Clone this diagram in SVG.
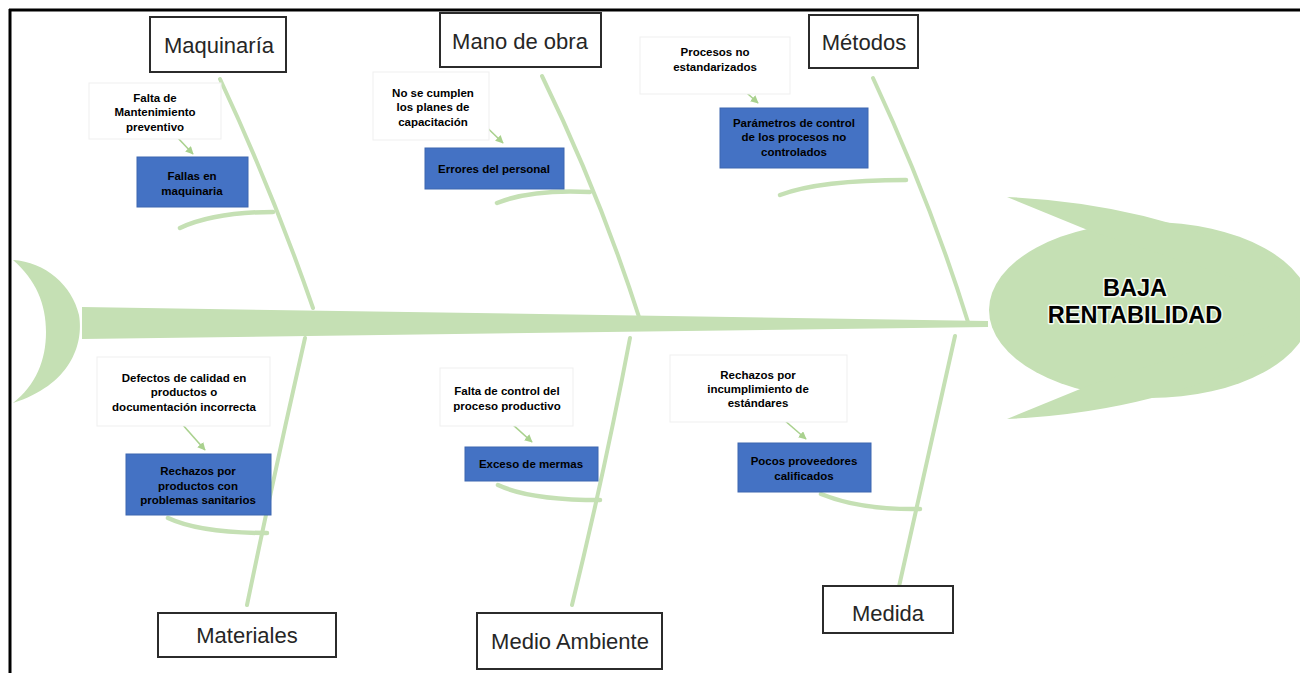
<svg xmlns="http://www.w3.org/2000/svg" width="1300" height="673" viewBox="0 0 1300 673">
<defs>
<style>
.bone{fill:none;stroke:#c5e0b4;stroke-width:4;stroke-linecap:round}
.sub{fill:none;stroke:#c5e0b4;stroke-width:4.5;stroke-linecap:round}
.arr{fill:none;stroke:#a9d18e;stroke-width:1.6}
.cat{fill:#fff;stroke:#2b2b2b;stroke-width:2}
.catt{font-family:"Liberation Sans",Arial,sans-serif;font-size:22px;fill:#262626;text-anchor:middle}
.cause{fill:#fff;stroke:#efefef;stroke-width:1}
.blue{fill:#4472c4;stroke:#3d66b0;stroke-width:1}
.t{font-family:"Liberation Sans",Arial,sans-serif;font-size:11.5px;font-weight:bold;fill:#000;text-anchor:middle}
.head{font-family:"Liberation Sans",Arial,sans-serif;font-size:23.5px;font-weight:bold;fill:#000;text-anchor:middle;stroke:#f4fbef;stroke-width:3;paint-order:stroke;stroke-linejoin:round}
</style>
<marker id="ah" viewBox="0 0 10 10" refX="9" refY="5" markerWidth="5" markerHeight="5" orient="auto">
<path d="M0,0 L10,5 L0,10 Z" fill="#a9d18e"/>
</marker>
</defs>
<rect width="1300" height="673" fill="#fff"/>
<!-- frame -->
<line x1="9" y1="10" x2="1300" y2="10" stroke="#000" stroke-width="3"/>
<line x1="10" y1="9" x2="10" y2="673" stroke="#000" stroke-width="3"/>

<g id="fish">
<path id="tail" d="M13,260 C45,262 72,285 79,315 C84,345 70,385 13,403 C36,385 46,360 46,332 C46,304 36,280 13,260 Z" fill="#c5e0b4"/>
<path id="spine" d="M82,307 L988,321 L988,327 L82,339 Z" fill="#c5e0b4"/>
<g id="head-shape" fill="#c5e0b4">
<ellipse cx="1150" cy="310" rx="161" ry="88"/>
<path d="M1007,197 Q1180,205 1302,282 L1302,300 L1090,231 Z"/>
<path d="M1007,419 Q1180,411 1302,334 L1302,316 L1090,385 Z"/>
</g>
</g>

<g id="connectors">
<path class="bone" d="M220,79 Q272,190 313,308"/>
<path class="bone" d="M542,76 Q600,195 640,320"/>
<path class="bone" d="M873,78 Q930,200 968,322"/>
<path class="bone" d="M305,338 Q275,470 247,605"/>
<path class="bone" d="M630,338 Q605,470 572,605"/>
<path class="bone" d="M955,336 Q925,470 896,600"/>
<path class="sub" d="M180,228 Q215,212 273,212"/>
<path class="sub" d="M497,203 Q532,189 590,192"/>
<path class="sub" d="M780,195 Q820,180 906,180"/>
<path class="sub" d="M168,518 Q200,533 267,533"/>
<path class="sub" d="M498,485 Q530,500 600,500"/>
<path class="sub" d="M821,494 Q860,510 920,509"/>
<path class="arr" marker-end="url(#ah)" d="M161,120 L193,154"/>
<path class="arr" marker-end="url(#ah)" d="M472,113 L503,143"/>
<path class="arr" marker-end="url(#ah)" d="M728,76 L758,103"/>
<path class="arr" marker-end="url(#ah)" d="M182,424 L205,450"/>
<path class="arr" marker-end="url(#ah)" d="M502,415 L532,442"/>
<path class="arr" marker-end="url(#ah)" d="M776,413 L806,439"/>
</g>

<g id="n-head"><text class="head" x="1135" y="296">BAJA</text><text class="head" x="1135" y="323">RENTABILIDAD</text></g>

<g id="n-maquinaria"><rect class="cat" x="150" y="17" width="136" height="55"/><text class="catt" x="219" y="53">Maquinaría</text></g>
<g id="n-manodeobra"><rect class="cat" x="440" y="13" width="161" height="54"/><text class="catt" x="520" y="49">Mano de obra</text></g>
<g id="n-metodos"><rect class="cat" x="809" y="15" width="109" height="53"/><text class="catt" x="864" y="50">Métodos</text></g>
<g id="n-materiales"><rect class="cat" x="158" y="613" width="178" height="44"/><text class="catt" x="247" y="643">Materiales</text></g>
<g id="n-medioambiente"><rect class="cat" x="477" y="613" width="185" height="56"/><text class="catt" x="570" y="649">Medio Ambiente</text></g>
<g id="n-medida"><rect class="cat" x="823" y="586" width="130" height="47"/><text class="catt" x="888" y="621">Medida</text></g>

<g id="c-mantenimiento"><rect class="cause" x="89" y="83" width="132" height="56"/><text class="t" x="155" y="102">Falta de</text><text class="t" x="155" y="116">Mantenimiento</text><text class="t" x="155" y="131">preventivo</text></g>
<g id="c-capacitacion"><rect class="cause" x="373" y="72" width="116" height="68"/><text class="t" x="433" y="97">No se cumplen</text><text class="t" x="433" y="111">los planes de</text><text class="t" x="433" y="126">capacitación</text></g>
<g id="c-procesos"><rect class="cause" x="640" y="37" width="150" height="57"/><text class="t" x="715" y="56">Procesos no</text><text class="t" x="715" y="71">estandarizados</text></g>
<g id="c-defectos"><rect class="cause" x="97" y="357" width="173" height="69"/><text class="t" x="184" y="382">Defectos de calidad en</text><text class="t" x="184" y="396">productos o</text><text class="t" x="184" y="411">documentación incorrecta</text></g>
<g id="c-control"><rect class="cause" x="440" y="368" width="133" height="58"/><text class="t" x="507" y="395">Falta de control del</text><text class="t" x="507" y="410">proceso productivo</text></g>
<g id="c-incumplimiento"><rect class="cause" x="670" y="355" width="177" height="67"/><text class="t" x="758" y="379">Rechazos por</text><text class="t" x="758" y="393">incumplimiento de</text><text class="t" x="758" y="407">estándares</text></g>

<g id="b-fallas"><rect class="blue" x="137" y="157" width="111" height="50"/><text class="t" x="192" y="180">Fallas en</text><text class="t" x="192" y="195">maquinaria</text></g>
<g id="b-errores"><rect class="blue" x="425" y="148" width="139" height="41"/><text class="t" x="494" y="173">Errores del personal</text></g>
<g id="b-parametros"><rect class="blue" x="720" y="108" width="148" height="60"/><text class="t" x="794" y="127">Parámetros de control</text><text class="t" x="794" y="141">de los procesos no</text><text class="t" x="794" y="156">controlados</text></g>
<g id="b-rechazos"><rect class="blue" x="126" y="454" width="145" height="61"/><text class="t" x="198" y="475">Rechazos por</text><text class="t" x="198" y="490">productos con</text><text class="t" x="198" y="504">problemas sanitarios</text></g>
<g id="b-mermas"><rect class="blue" x="465" y="447" width="133" height="34"/><text class="t" x="531" y="468">Exceso de mermas</text></g>
<g id="b-proveedores"><rect class="blue" x="738" y="443" width="133" height="49"/><text class="t" x="804" y="465">Pocos proveedores</text><text class="t" x="804" y="480">calificados</text></g>
</svg>
